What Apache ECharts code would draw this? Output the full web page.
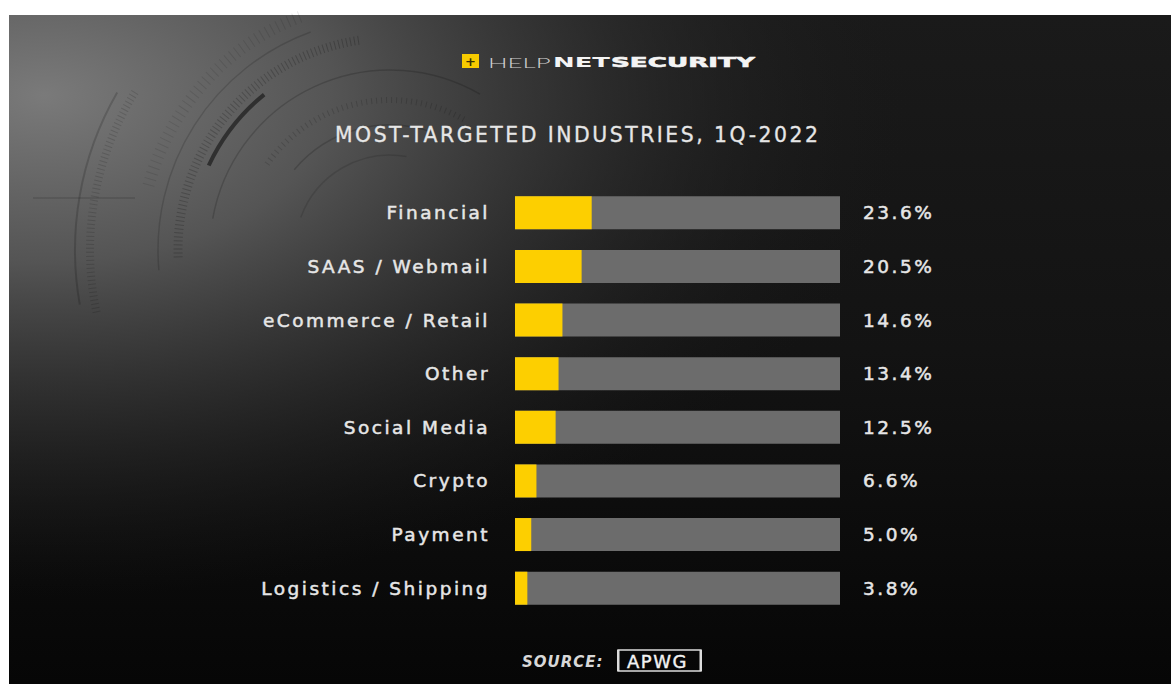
<!DOCTYPE html>
<html>
<head>
<meta charset="utf-8">
<title>Most-targeted industries, 1Q-2022</title>
<script src="https://cdn.jsdelivr.net/npm/echarts@6/dist/echarts.min.js"></script>
<style>
  html, body { margin: 0; padding: 0; background: #ffffff; }
  #chart { width: 1171px; height: 684px; }
  /* wide, tracked lettering: labels, values and heading share one colour */
  #chart text[fill="#e6e6e6"] { letter-spacing: 2.5px; }
  #chart text[fill="#d8d8d8"] { letter-spacing: 1px; }
  #chart text[fill="#f2f2f2"] { letter-spacing: 1.5px; }
</style>
</head>
<body>
<div id="chart"></div>
<script>
// Share of phishing attacks by targeted industry (%), 1Q-2022
const categories = [
  'Financial',
  'SAAS / Webmail',
  'eCommerce / Retail',
  'Other',
  'Social Media',
  'Crypto',
  'Payment',
  'Logistics / Shipping'
];
const shares = [23.6, 20.5, 14.6, 13.4, 12.5, 6.6, 5.0, 3.8];
// each grey track spans the full 0-100 % scale
const trackFull = [100, 100, 100, 100, 100, 100, 100, 100];

const chart = echarts.init(document.getElementById('chart'), null, { renderer: 'svg' });

const rad = d => d * Math.PI / 180;
const arc = (r, a0, a1, stroke, width, dash) => ({
  type: 'arc', silent: true, z: -8,
  shape: { cx: 390, cy: 250, r: r, startAngle: rad(a0), endAngle: rad(a1), clockwise: true },
  style: { stroke: stroke, lineWidth: width, fill: null, lineDash: dash || null }
});

const labelFont = 'DejaVu Sans';
const textColor = '#e6e6e6';

chart.setOption({
  backgroundColor: '#ffffff',
  animation: false,
  title: {
    text: 'MOST-TARGETED INDUSTRIES, 1Q-2022',
    left: 335,
    top: 125,
    padding: 0,
    textStyle: {
      color: textColor, fontFamily: labelFont, fontSize: 20.4, fontWeight: 'normal',
      textBorderColor: textColor, textBorderWidth: 0.3
    }
  },
  grid: { left: 515, right: 331, top: 186, bottom: 69, containLabel: false },
  xAxis: { type: 'value', min: 0, max: 100, show: false },
  yAxis: {
    type: 'category',
    data: categories,
    inverse: true,
    axisLine: { show: false },
    axisTick: { show: false },
    splitLine: { show: false },
    axisLabel: {
      color: textColor, fontFamily: labelFont, fontSize: 18.5, margin: 25,
      textBorderColor: textColor, textBorderWidth: 0.5
    }
  },
  series: [
    {
      name: 'Track',
      type: 'bar',
      data: trackFull,
      barWidth: 33,
      itemStyle: { color: '#6c6c6c' },
      label: {
        show: true,
        position: 'right',
        distance: 23,
        color: textColor,
        fontFamily: labelFont,
        fontSize: 18.5,
        textBorderColor: textColor,
        textBorderWidth: 0.5,
        formatter: p => shares[p.dataIndex].toFixed(1) + '%'
      },
      z: 2
    },
    {
      name: 'Share',
      type: 'bar',
      data: shares,
      barWidth: 33,
      barGap: '-100%',
      itemStyle: { color: '#fdcf00' },
      z: 3
    }
  ],
  graphic: [
    // backdrop
    {
      type: 'rect', silent: true, z: -10,
      shape: { x: 9, y: 15, width: 1162, height: 669 },
      style: {
        fill: new echarts.graphic.LinearGradient(0, 0, 0, 1, [
          { offset: 0, color: '#1a1a1a' },
          { offset: 0.5, color: '#131313' },
          { offset: 1, color: '#060606' }
        ])
      }
    },
    {
      type: 'rect', silent: true, z: -9,
      shape: { x: 9, y: 15, width: 1162, height: 669 },
      style: {
        fill: new echarts.graphic.RadialGradient(0.03, 0.12, 0.75, [
          { offset: 0, color: 'rgba(122,122,122,1)' },
          { offset: 0.33, color: 'rgba(88,88,88,0.95)' },
          { offset: 0.66, color: 'rgba(48,48,48,0.7)' },
          { offset: 1, color: 'rgba(25,25,25,0)' }
        ])
      }
    },
    // radar-style rings
    arc(200, 205, 231, 'rgba(0,0,0,0.5)', 4),
    arc(212, 178, 262, 'rgba(0,0,0,0.2)', 9, [1, 3]),
    arc(232, 175, 250, 'rgba(0,0,0,0.15)', 1.5),
    arc(180, 190, 300, 'rgba(0,0,0,0.17)', 1.5),
    arc(150, 215, 300, 'rgba(0,0,0,0.15)', 6, [1, 4]),
    arc(125, 220, 290, 'rgba(0,0,0,0.17)', 1.5),
    arc(95, 200, 280, 'rgba(0,0,0,0.12)', 1.5),
    arc(300, 168, 212, 'rgba(0,0,0,0.14)', 8, [1, 3]),
    arc(315, 170, 210, 'rgba(0,0,0,0.17)', 2),
    arc(250, 195, 250, 'rgba(0,0,0,0.1)', 12, [1, 5]),
    {
      type: 'line', silent: true, z: -8,
      shape: { x1: 33, y1: 198, x2: 135, y2: 198 },
      style: { stroke: 'rgba(0,0,0,0.22)', lineWidth: 1.2 }
    },
    // brand mark
    {
      type: 'rect', silent: true, z: 5,
      shape: { x: 462, y: 54, width: 17, height: 14 },
      style: { fill: '#f7cb00' }
    },
    {
      type: 'text', silent: true, z: 6, x: 470.5, y: 61,
      style: { text: '+', fill: '#3a3000', font: 'bold 13px DejaVu Sans', textAlign: 'center', textVerticalAlign: 'middle' }
    },
    {
      type: 'text', silent: true, z: 6, x: 488, y: 62.5, scaleX: 1.85,
      style: { text: 'HELP', fill: '#cfcfcf', font: '300 14px Lato', textAlign: 'left', textVerticalAlign: 'middle' }
    },
    {
      type: 'text', silent: true, z: 6, x: 553, y: 62.5, scaleX: 1.85,
      style: { text: 'NET', fill: '#f4f4f4', font: 'bold 14px DejaVu Sans', textAlign: 'left', textVerticalAlign: 'middle' }
    },
    {
      type: 'text', silent: true, z: 6, x: 611, y: 62.5, scaleX: 1.87,
      style: {
        text: 'SECURITY', fill: '#f4f4f4', font: 'bold 14px DejaVu Sans', textAlign: 'left', textVerticalAlign: 'middle',
        stroke: '#f4f4f4', lineWidth: 0.6
      }
    },
    // source line
    {
      type: 'text', silent: true, z: 6, x: 522, y: 661.5,
      style: { text: 'SOURCE:', fill: '#d8d8d8', font: 'italic bold 15px DejaVu Sans', textAlign: 'left', textVerticalAlign: 'middle' }
    },
    {
      type: 'rect', silent: true, z: 6,
      shape: { x: 618, y: 650, width: 83, height: 21 },
      style: { fill: null, stroke: '#dcdcdc', lineWidth: 1.4 }
    },
    {
      type: 'rect', silent: true, z: 6,
      shape: { x: 617, y: 650, width: 2.5, height: 21 },
      style: { fill: '#dcdcdc' }
    },
    {
      type: 'rect', silent: true, z: 6,
      shape: { x: 699.5, y: 650, width: 2.5, height: 21 },
      style: { fill: '#dcdcdc' }
    },
    {
      type: 'text', silent: true, z: 6, x: 627, y: 661,
      style: {
        text: 'APWG', fill: '#f2f2f2', font: '18px DejaVu Sans', textAlign: 'left', textVerticalAlign: 'middle',
        stroke: '#f2f2f2', lineWidth: 0.4
      }
    }
  ]
});
</script>
</body>
</html>
